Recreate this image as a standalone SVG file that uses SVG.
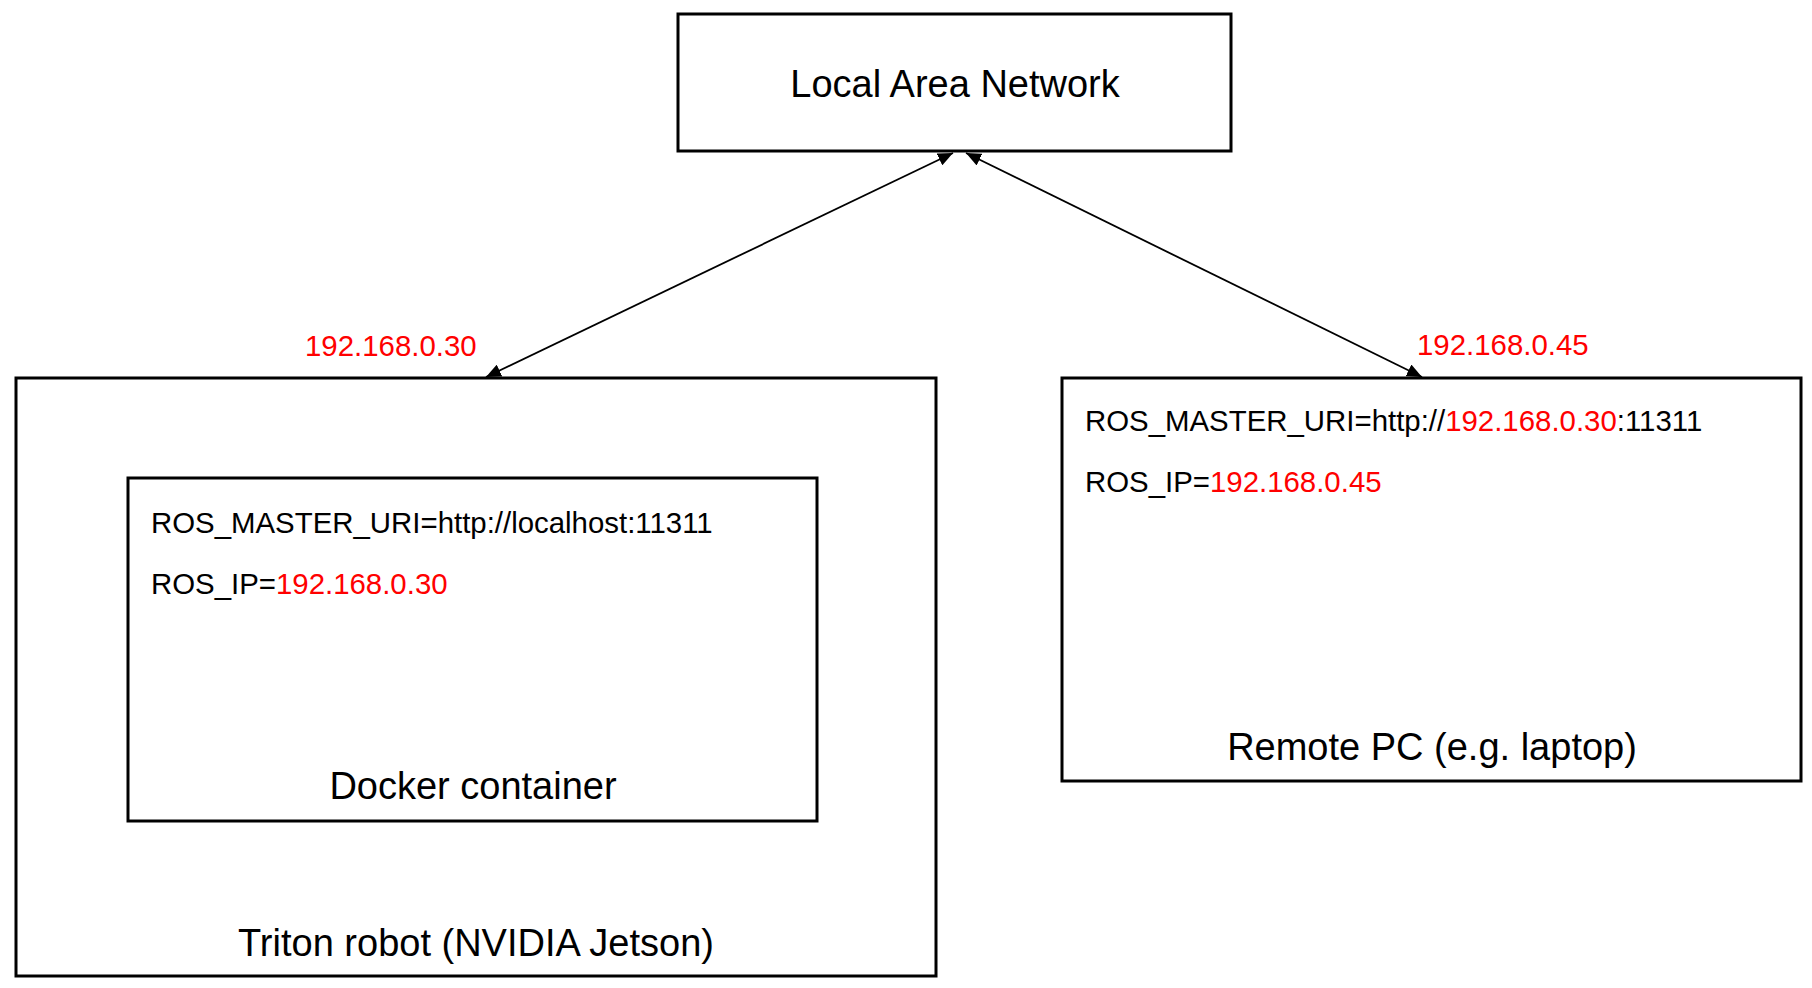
<svg xmlns="http://www.w3.org/2000/svg" width="1812" height="988" viewBox="0 0 1812 988">
<style>
.box{fill:#fff;stroke:#000;stroke-width:3}
.big{font-family:"Liberation Sans",Arial,sans-serif;font-size:38px;fill:#000}
.sm{font-family:"Liberation Sans",Arial,sans-serif;font-size:29.4px;fill:#000}
.red{fill:#ff0000}
.conn{stroke:#000;stroke-width:1.8;fill:none;marker-start:url(#arr);marker-end:url(#arr)}
</style>
<defs>
<marker id="arr" viewBox="0 0 15 13" refX="15" refY="6.5" markerWidth="15" markerHeight="13" markerUnits="userSpaceOnUse" orient="auto-start-reverse">
<path d="M0,0 L15,6.5 L0,13 z" fill="#000"/>
</marker>
</defs>
<rect width="1812" height="988" fill="#fff"/>
<g id="lan">
<rect class="box" x="678" y="14" width="553" height="137"/>
<text class="big" x="955" y="97" text-anchor="middle">Local Area Network</text>
</g>
<g id="triton">
<rect class="box" x="16" y="378" width="920" height="598"/>
<text class="big" x="476" y="956" text-anchor="middle">Triton robot (NVIDIA Jetson)</text>
<text class="sm red" x="305" y="356">192.168.0.30</text>
</g>
<g id="docker">
<rect class="box" x="128" y="478" width="689" height="343"/>
<text class="sm" x="151" y="533">ROS_MASTER_URI=http://localhost:11311</text>
<text class="sm" x="151" y="594">ROS_IP=<tspan class="red">192.168.0.30</tspan></text>
<text class="big" x="473" y="799" text-anchor="middle">Docker container</text>
</g>
<g id="remote">
<rect class="box" x="1062" y="378" width="739" height="403"/>
<text class="sm" x="1085" y="431">ROS_MASTER_URI=http://<tspan class="red">192.168.0.30</tspan>:11311</text>
<text class="sm" x="1085" y="492">ROS_IP=<tspan class="red">192.168.0.45</tspan></text>
<text class="big" x="1432" y="760" text-anchor="middle">Remote PC (e.g. laptop)</text>
<text class="sm red" x="1417" y="355">192.168.0.45</text>
</g>
<g id="connectors">
<line class="conn" x1="486" y1="377" x2="953" y2="153"/>
<line class="conn" x1="1422" y1="377" x2="966" y2="153"/>
</g>
</svg>
